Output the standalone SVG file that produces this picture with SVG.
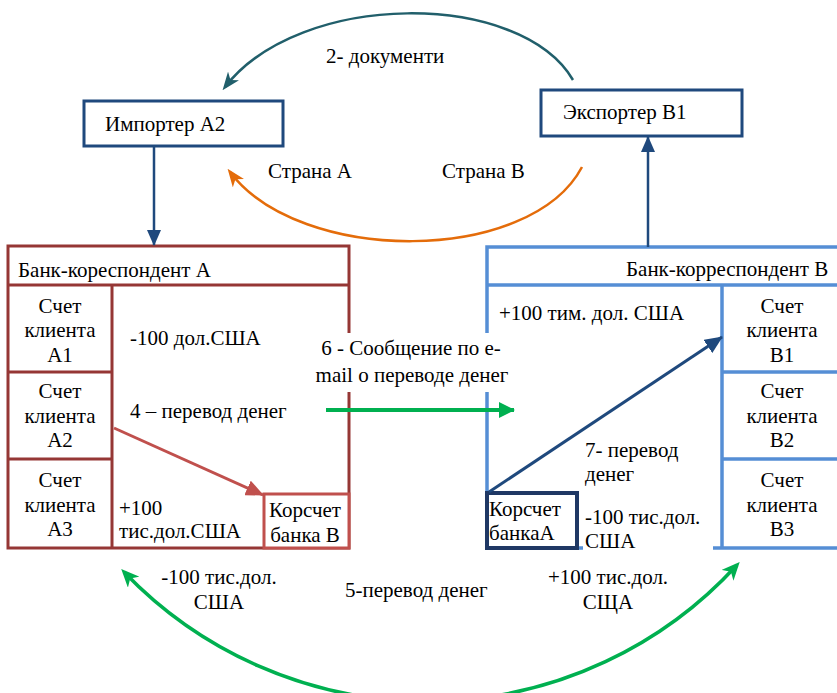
<svg xmlns="http://www.w3.org/2000/svg" width="837" height="693" viewBox="0 0 837 693">
<style>
text{font-family:"Liberation Serif","Times New Roman",serif;font-size:21px;fill:#000}
.c{text-anchor:middle}
.bankA{fill:none;stroke:#953735;stroke-width:3}
.bankB{fill:none;stroke:#558ed5;stroke-width:3.5}
.party{fill:#fff;stroke:#1f497d;stroke-width:3}
</style>
<defs>
<marker id="mNavyBig" markerWidth="18" markerHeight="16" refX="17" refY="8" orient="auto" markerUnits="userSpaceOnUse" viewBox="0 0 18 16"><path d="M0,0 L18,8 L0,16 z" fill="#1f497d"/></marker>
<marker id="mNavyV" markerWidth="16" markerHeight="16" refX="15" refY="8" orient="auto" markerUnits="userSpaceOnUse" viewBox="0 0 16 16"><path d="M0,1 L16,8 L0,15 z" fill="#1f497d"/></marker>
<marker id="mRed" markerWidth="18" markerHeight="16" refX="17" refY="8" orient="auto" markerUnits="userSpaceOnUse" viewBox="0 0 18 16"><path d="M0,0 L18,8 L0,16 z" fill="#c0504d"/></marker>
<marker id="mTeal" markerWidth="18" markerHeight="14" refX="14" refY="7" orient="auto" markerUnits="userSpaceOnUse" viewBox="0 0 18 14"><path d="M0,0 L18,7 L0,14 L5,7 z" fill="#215f6b"/></marker>
<marker id="mOrange" markerWidth="18" markerHeight="14" refX="14" refY="7" orient="auto" markerUnits="userSpaceOnUse" viewBox="0 0 18 14"><path d="M0,0 L18,7 L0,14 L5,7 z" fill="#e46c0a"/></marker>
<marker id="mGreen" markerWidth="18" markerHeight="16" refX="14" refY="8" orient="auto-start-reverse" markerUnits="userSpaceOnUse" viewBox="0 0 18 16"><path d="M0,0 L18,8 L0,16 L5,8 z" fill="#00b050"/></marker>
<marker id="mGreenS" markerWidth="16" markerHeight="16" refX="15" refY="8" orient="auto" markerUnits="userSpaceOnUse" viewBox="0 0 16 16"><path d="M0,0 L16,8 L0,16 z" fill="#00b050"/></marker>
</defs>

<g id="bankA">
<rect class="bankA" x="8" y="246" width="341" height="302"/>
<line class="bankA" x1="8" y1="285" x2="349" y2="285"/>
<line class="bankA" x1="112" y1="285" x2="112" y2="548"/>
<line class="bankA" x1="8" y1="372" x2="112" y2="372"/>
<line class="bankA" x1="8" y1="459" x2="112" y2="459"/>
<text x="18" y="277">Банк-кореспондент А</text>
<text class="c" x="60" y="313">Счет</text><text class="c" x="60" y="337">клиента</text><text class="c" x="60" y="362">А1</text>
<text class="c" x="60" y="398">Счет</text><text class="c" x="60" y="423">клиента</text><text class="c" x="60" y="447">А2</text>
<text class="c" x="60" y="487">Счет</text><text class="c" x="60" y="512">клиента</text><text class="c" x="60" y="536">А3</text>
<text x="130" y="345">-100 дол.США</text>
<text x="130" y="418">4 – перевод денег</text>
<text x="119" y="515">+100</text>
<text x="119" y="538">тис.дол.США</text>
</g>
<g id="korschB">
<rect x="264" y="494" width="85" height="54" fill="#fff" stroke="#c0504d" stroke-width="3"/>
<text class="c" x="305" y="517">Корсчет</text>
<text class="c" x="305" y="542">банка В</text>
</g>

<g id="bankB">
<rect class="bankB" x="487" y="247" width="370" height="301"/>
<line class="bankB" x1="487" y1="285" x2="840" y2="285"/>
<line class="bankB" x1="722" y1="285" x2="722" y2="548"/>
<line class="bankB" x1="722" y1="372" x2="840" y2="372"/>
<line class="bankB" x1="722" y1="459" x2="840" y2="459"/>
<text x="626" y="276">Банк-корреспондент В</text>
<text x="499" y="320">+100 тим. дол. США</text>
<text class="c" x="782" y="313">Счет</text><text class="c" x="782" y="337">клиента</text><text class="c" x="782" y="362">В1</text>
<text class="c" x="782" y="398">Счет</text><text class="c" x="782" y="423">клиента</text><text class="c" x="782" y="447">В2</text>
<text class="c" x="782" y="487">Счет</text><text class="c" x="782" y="512">клиента</text><text class="c" x="782" y="536">В3</text>
<text x="585" y="457">7- перевод</text>
<text x="585" y="481">денег</text>
<rect x="583" y="502" width="130" height="50" fill="#fff"/>
<text x="585" y="524">-100 тис.дол.</text>
<text x="585" y="548">США</text>
</g>
<g id="korschA">
<rect x="487" y="493" width="90" height="55" fill="#fff" stroke="#1f3864" stroke-width="4"/>
<text x="489" y="516">Корсчет</text>
<text x="489" y="540">банкаА</text>
</g>

<g id="importer">
<rect class="party" x="84" y="101" width="199" height="45"/>
<text x="105" y="131">Импортер А2</text>
</g>
<g id="exporter">
<rect class="party" x="541" y="90" width="201" height="46"/>
<text x="563" y="119">Экспортер В1</text>
</g>

<g id="message">
<rect x="304" y="333" width="218" height="59" fill="#fff"/>
<text class="c" x="411" y="355">6 - Сообщение по е-</text>
<text class="c" x="412" y="382">mail о переводе денег</text>
</g>

<g id="connectors" fill="none">
<line x1="154" y1="146" x2="154" y2="245" stroke="#1f497d" stroke-width="2.5" marker-end="url(#mNavyV)"/>
<line x1="648" y1="247" x2="648" y2="137" stroke="#1f497d" stroke-width="2.5" marker-end="url(#mNavyV)"/>
<path d="M573,80 C520,-10 300,-10 225,87" stroke="#215f6b" stroke-width="2.5" marker-end="url(#mTeal)"/>
<path d="M582,167 C530,265 300,265 230,172" stroke="#e46c0a" stroke-width="2.5" marker-end="url(#mOrange)"/>
<path d="M124,572 A420,420 0 0 0 737,565" stroke="#00b050" stroke-width="3.5" marker-start="url(#mGreen)" marker-end="url(#mGreen)"/>
<line x1="326" y1="410" x2="514" y2="410" stroke="#00b050" stroke-width="4" marker-end="url(#mGreenS)"/>
<line x1="114" y1="428" x2="263" y2="495" stroke="#c0504d" stroke-width="3" marker-end="url(#mRed)"/>
<line x1="489" y1="492" x2="722" y2="337" stroke="#1f497d" stroke-width="3" marker-end="url(#mNavyBig)"/>
</g>

<g id="labels">
<text x="326" y="63">2- документи</text>
<text x="268" y="178">Страна А</text>
<text x="442" y="178">Страна В</text>
<text class="c" x="219" y="584">-100 тис.дол.</text>
<text class="c" x="219" y="609">США</text>
<text x="345" y="597">5-перевод денег</text>
<text class="c" x="608" y="584">+100 тис.дол.</text>
<text class="c" x="608" y="609">СЩА</text>
</g>
</svg>
